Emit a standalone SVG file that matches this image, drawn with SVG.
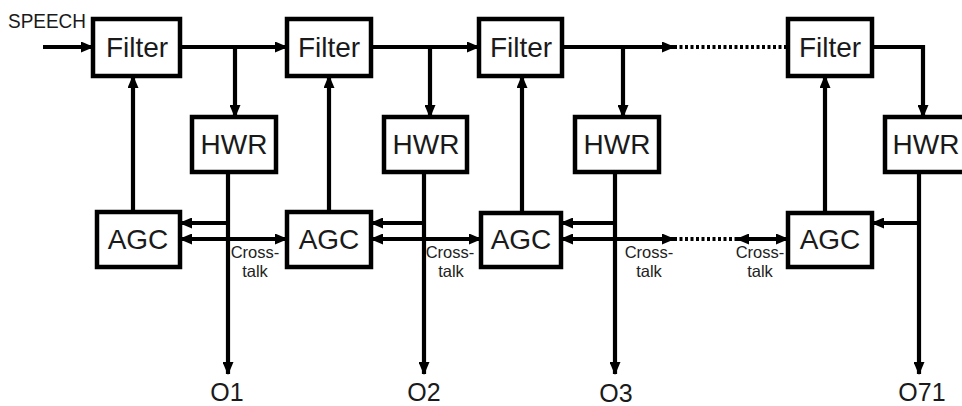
<svg xmlns="http://www.w3.org/2000/svg" width="962" height="406" viewBox="0 0 962 406">
<defs>
<marker id="ah" markerUnits="userSpaceOnUse" markerWidth="13" markerHeight="11" refX="12" refY="5.5" orient="auto-start-reverse">
<path d="M0,0 L13,5.5 L0,11 Z" fill="#000"/>
</marker>
</defs>
<style>
.box{fill:#fff;stroke:#000;stroke-width:4.5}
.lbl{font-family:"Liberation Sans",Arial,sans-serif;font-size:28px;fill:#1a1a1a;text-anchor:middle}
.ct{font-family:"Liberation Sans",Arial,sans-serif;font-size:16.5px;fill:#222;text-anchor:middle}
.out{font-family:"Liberation Sans",Arial,sans-serif;font-size:25px;fill:#1a1a1a;text-anchor:middle}
.w{stroke:#000;stroke-width:4.2;fill:none}
.a{marker-end:url(#ah)}
.d{stroke:#000;stroke-width:3.8;fill:none;stroke-dasharray:3 2.5}
.b{marker-start:url(#ah);marker-end:url(#ah)}
</style>
<rect width="962" height="406" fill="#fff"/>
<text x="47" y="28" font-family="'Liberation Sans',Arial,sans-serif" font-size="21" fill="#1a1a1a" text-anchor="middle" textLength="78" lengthAdjust="spacingAndGlyphs">SPEECH</text>
<g id="connectors">
<line class="w a" x1="43" y1="47" x2="93" y2="47"/>
<line class="w a" x1="180" y1="47" x2="287" y2="47"/>
<line class="w a" x1="371" y1="47" x2="479" y2="47"/>
<line class="w a" x1="562" y1="47" x2="674" y2="47"/>
<line class="d" x1="674" y1="47" x2="788" y2="47"/>
<polyline class="w a" points="872,47 923,47 923,117"/>
<line class="w a" x1="235" y1="47" x2="235" y2="117"/>
<line class="w a" x1="430" y1="47" x2="430" y2="117"/>
<line class="w a" x1="623" y1="47" x2="623" y2="117"/>
<line class="w a" x1="133" y1="212" x2="133" y2="76"/>
<line class="w a" x1="329" y1="212" x2="329" y2="76"/>
<line class="w a" x1="522" y1="213" x2="522" y2="76"/>
<line class="w a" x1="825" y1="213" x2="825" y2="76"/>
<line class="w a" x1="228" y1="172" x2="228" y2="374"/>
<line class="w a" x1="424" y1="172" x2="424" y2="374"/>
<line class="w a" x1="615" y1="172" x2="615" y2="374"/>
<line class="w a" x1="919" y1="172" x2="919" y2="374"/>
<line class="w a" x1="230" y1="223" x2="180" y2="223"/>
<line class="w a" x1="426" y1="223" x2="371" y2="223"/>
<line class="w a" x1="617" y1="223" x2="561" y2="223"/>
<line class="w a" x1="921" y1="223" x2="872" y2="223"/>
<line class="w b" x1="180" y1="239" x2="287" y2="239"/>
<line class="w b" x1="371" y1="239" x2="481" y2="239"/>
<line class="w b" x1="561" y1="239" x2="674" y2="239"/>
<line class="d" x1="674" y1="239" x2="737" y2="239"/>
<line class="w b" x1="737" y1="239" x2="788" y2="239"/>
</g>
<g id="filter1"><rect class="box" x="93" y="19" width="87" height="57"/><text class="lbl" x="137" y="57">Filter</text></g>
<g id="filter2"><rect class="box" x="287" y="19" width="84" height="57"/><text class="lbl" x="329" y="57">Filter</text></g>
<g id="filter3"><rect class="box" x="479" y="19" width="83" height="57"/><text class="lbl" x="521" y="57">Filter</text></g>
<g id="filter4"><rect class="box" x="788" y="19" width="84" height="57"/><text class="lbl" x="830" y="57">Filter</text></g>
<g id="hwr1"><rect class="box" x="192" y="117" width="84" height="55"/><text class="lbl" x="234" y="154">HWR</text></g>
<g id="hwr2"><rect class="box" x="384" y="117" width="83" height="55"/><text class="lbl" x="426" y="154">HWR</text></g>
<g id="hwr3"><rect class="box" x="575" y="117" width="84" height="55"/><text class="lbl" x="617" y="154">HWR</text></g>
<g id="hwr4"><rect class="box" x="885" y="117" width="84" height="55"/><text class="lbl" x="926" y="154">HWR</text></g>
<g id="agc1"><rect class="box" x="97" y="212" width="83" height="55"/><text class="lbl" x="138" y="249">AGC</text></g>
<g id="agc2"><rect class="box" x="287" y="212" width="84" height="55"/><text class="lbl" x="329" y="249">AGC</text></g>
<g id="agc3"><rect class="box" x="481" y="213" width="80" height="54"/><text class="lbl" x="521" y="249">AGC</text></g>
<g id="agc4"><rect class="box" x="788" y="213" width="84" height="54"/><text class="lbl" x="830" y="249">AGC</text></g>
<g id="crosstalk-labels">
<text class="ct" x="255" y="258">Cross-</text><text class="ct" x="255" y="277">talk</text>
<text class="ct" x="450" y="258">Cross-</text><text class="ct" x="451" y="277">talk</text>
<text class="ct" x="649" y="258">Cross-</text><text class="ct" x="649" y="277">talk</text>
<text class="ct" x="760" y="258">Cross-</text><text class="ct" x="760" y="277">talk</text>
</g>
<g id="outputs">
<text class="out" x="227" y="401">O1</text>
<text class="out" x="424" y="401">O2</text>
<text class="out" x="616" y="402">O3</text>
<text class="out" x="922" y="401">O71</text>
</g>
</svg>
